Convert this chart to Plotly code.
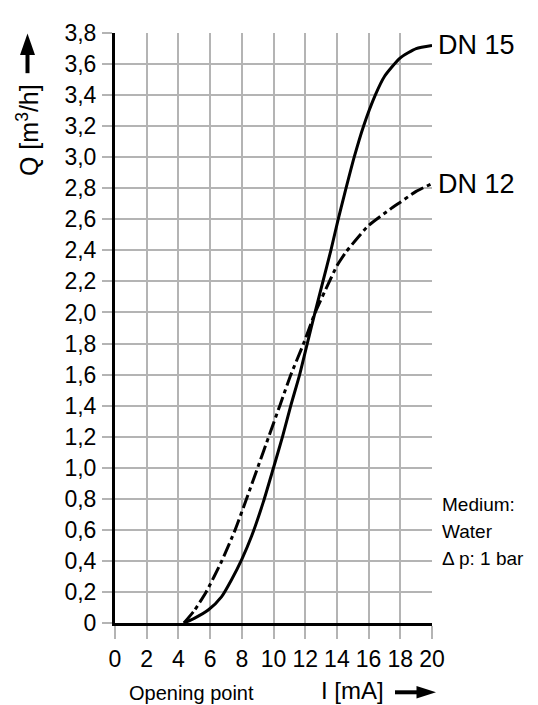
import plotly.graph_objects as go

# ---- data ----
x_dn15 = [4.35, 5.0, 5.9, 6.73, 7.36, 8.0, 8.62, 9.36, 10.0, 10.57, 11.09, 11.65, 12.13, 12.62,
          13.12, 13.62, 14.08, 14.45, 15.09, 15.68, 16.42, 17.0, 18.0, 19.0, 20.0]
q_dn15 = [0, 0.03, 0.085, 0.17, 0.28, 0.41, 0.56, 0.78, 1.0, 1.2, 1.4, 1.6, 1.8, 2.0,
          2.2, 2.4, 2.6, 2.75, 3.0, 3.2, 3.4, 3.52, 3.64, 3.70, 3.72]

x_dn12 = [4.35, 5.0, 5.75, 6.74, 7.58, 8.3, 9.0, 9.7, 10.4, 11.1, 11.9, 12.63, 13.53, 14.0,
          14.58, 15.3, 16.0, 17.36, 18.0, 19.0, 20.0]
q_dn12 = [0, 0.08, 0.2, 0.4, 0.6, 0.8, 1.0, 1.2, 1.4, 1.6, 1.8, 2.0, 2.2, 2.3,
          2.39, 2.48, 2.56, 2.665, 2.71, 2.78, 2.83]

x_ticks = [0, 2, 4, 6, 8, 10, 12, 14, 16, 18, 20]
y_ticks = [0, 0.2, 0.4, 0.6, 0.8, 1.0, 1.2, 1.4, 1.6, 1.8, 2.0, 2.2, 2.4, 2.6, 2.8, 3.0, 3.2, 3.4, 3.6, 3.8]
y_ticktext = ["0", "0,2", "0,4", "0,6", "0,8", "1,0", "1,2", "1,4", "1,6", "1,8", "2,0",
              "2,2", "2,4", "2,6", "2,8", "3,0", "3,2", "3,4", "3,6", "3,8"]

series_labels = ["DN 15", "DN 12"]
note_lines = ["Medium:", "Water", "Δ p: 1 bar"]

# ---- layout geometry (reference pixel frame; page body adds an 8px offset) ----
W, H = 538, 705
OFF = 8
ML, MR, MT, MB = 115, 106, 21, 82
PW, PH = W - ML - MR, H - MT - MB
FONT = "Liberation Sans, Arial, sans-serif"
GRID = "#b4b4b4"


def px(xp):
    return (xp - ML) / PW


def py(yp):
    return (H - MB - yp) / PH


fig = go.Figure()
fig.add_trace(go.Scatter(x=x_dn15, y=q_dn15, mode="lines", name=series_labels[0],
                         line=dict(color="black", width=3, shape="spline", smoothing=0.6)))
fig.add_trace(go.Scatter(x=x_dn12, y=q_dn12, mode="lines", name=series_labels[1],
                         line=dict(color="black", width=3, shape="spline", smoothing=0.6,
                                   dash="14px,4px,4px,4px")))

annotations = [
    dict(x=x_dn15[-1], y=q_dn15[-1], xref="x", yref="y", text=series_labels[0], showarrow=False,
         xanchor="left", yanchor="middle", xshift=4, font=dict(size=27, color="black")),
    dict(x=x_dn12[-1], y=q_dn12[-1], xref="x", yref="y", text=series_labels[1], showarrow=False,
         xanchor="left", yanchor="middle", xshift=4, font=dict(size=27, color="black")),
    dict(x=px(28), y=py(120), xref="paper", yref="paper", text="Q [m<sup>3</sup>/h]",
         showarrow=False, textangle=-90, xanchor="center", yanchor="middle",
         font=dict(size=25, color="black")),
    dict(x=px(352), y=py(692), xref="paper", yref="paper", text="I [mA]", showarrow=False,
         xanchor="center", yanchor="middle", font=dict(size=24, color="black")),
    dict(x=px(191), y=py(694), xref="paper", yref="paper", text="Opening point", showarrow=False,
         xanchor="center", yanchor="middle", font=dict(size=20, color="black")),
]
for i, line in enumerate(note_lines):
    annotations.append(dict(x=px(440), y=py(502 + 27.5 * i), xref="paper", yref="paper",
                            text=line, showarrow=False, xanchor="left", yanchor="middle",
                            font=dict(size=19, color="black")))


def tri(pts):
    return "M " + " L ".join(f"{px(a):.5f},{py(b):.5f}" for a, b in pts) + " Z"


shapes = [
    # y-axis arrow
    dict(type="line", xref="paper", yref="paper", x0=px(27.5), x1=px(27.5), y0=py(62), y1=py(40),
         line=dict(color="black", width=4)),
    dict(type="path", xref="paper", yref="paper", path=tri([(20, 43.5), (35, 43.5), (27.5, 21.5)]),
         fillcolor="black", line=dict(color="black", width=0)),
    # x-axis arrow
    dict(type="line", xref="paper", yref="paper", x0=px(395), x1=px(420), y0=py(693.7), y1=py(693.7),
         line=dict(color="black", width=4)),
    dict(type="path", xref="paper", yref="paper", path=tri([(416.5, 687.3), (416.5, 700), (436, 693.7)]),
         fillcolor="black", line=dict(color="black", width=0)),
]

fig.update_layout(
    width=W - OFF, height=H - OFF,
    margin=dict(l=ML - OFF, r=MR, t=MT - OFF, b=MB, pad=0),
    paper_bgcolor="white", plot_bgcolor="white",
    showlegend=False,
    font=dict(family=FONT, color="black"),
    annotations=annotations,
    shapes=shapes,
)
fig.update_xaxes(range=[0, 20], tickvals=x_ticks, ticktext=[str(v) for v in x_ticks],
                 showgrid=True, gridcolor=GRID, gridwidth=1.5, zeroline=False,
                 showline=True, linecolor="black", linewidth=3,
                 ticks="outside", ticklen=13, tickcolor=GRID, tickwidth=1.5,
                 tickfont=dict(size=23, color="black"), fixedrange=True)
fig.update_yaxes(range=[0, 3.8], tickvals=y_ticks, ticktext=y_ticktext,
                 showgrid=True, gridcolor=GRID, gridwidth=1.5, zeroline=False,
                 showline=True, linecolor="black", linewidth=3,
                 ticks="outside", ticklen=10, tickcolor=GRID, tickwidth=1.5,
                 ticklabelstandoff=1,
                 tickfont=dict(size=23, color="black"), fixedrange=True)

fig.write_html("out.html")
